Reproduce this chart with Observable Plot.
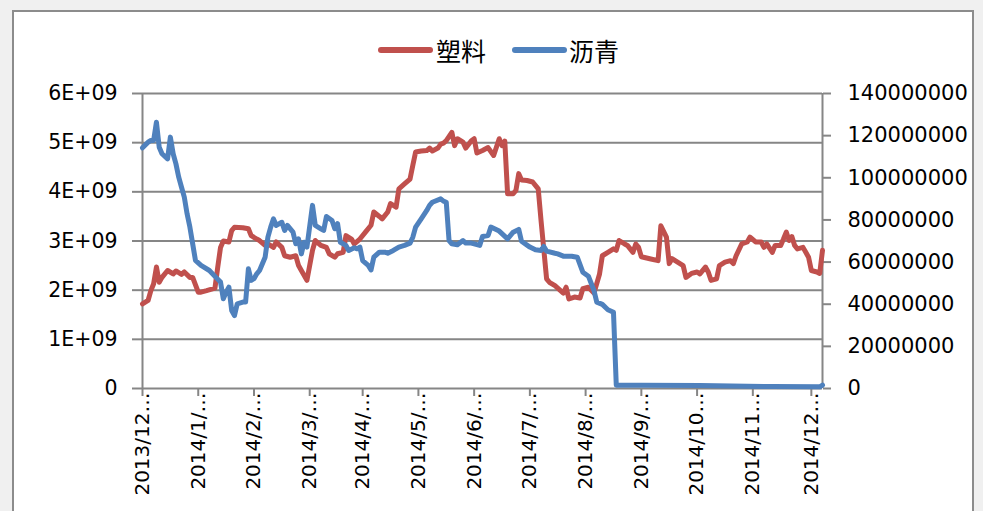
<!DOCTYPE html>
<html>
<head>
<meta charset="utf-8">
<script src="https://cdn.jsdelivr.net/npm/d3@7"></script>
<script src="https://cdn.jsdelivr.net/npm/@observablehq/plot@0.6"></script>
<style>
  html, body { margin: 0; padding: 0; background: #f0f0f0; width: 983px; height: 511px; overflow: hidden; }
  #frame { position: absolute; left: 12px; top: 10px; width: 958px; height: 520px; background: #fff; border: 2px solid #8c8c8c; }
  #chart { position: absolute; left: 0; top: 0; }
  .lg-line { position: absolute; height: 6px; border-radius: 3px; top: 47px; }
  .lg-text { position: absolute; top: 33px; font-family: "Noto Sans CJK SC", sans-serif; font-size: 25px; line-height: 34px; color: #000; }
</style>
</head>
<body>
<div id="frame"></div>
<div id="chart"></div>
<div class="lg-line" style="left:378px;width:55px;background:#C0504D"></div>
<div class="lg-text" style="left:436px">塑料</div>
<div class="lg-line" style="left:512px;width:55px;background:#4F81BD"></div>
<div class="lg-text" style="left:569px">沥青</div>
<script>
// Series names
const seriesNames = ["塑料", "沥青"];
// 塑料 (left axis, units of 1E+09) at trading-day index
const redIdx = [0,2,3,4,5,6,7,9,11,12,14,15,17,18,20,21,23,26,27,28,29,31,32,33,36,38,39,41,42,44,45,47,48,50,51,53,55,56,57,59,61,62,64,66,67,69,70,72,73,75,76,78,80,82,83,85,86,88,89,91,92,94,96,97,98,100,102,103,104,106,107,108,109,111,112,113,115,116,118,119,120,122,124,126,128,129,130,131,133,134,135,136,138,140,142,143,145,146,148,150,151,152,153,155,157,158,160,162,164,165,167,169,170,171,173,174,176,177,178,179,182,185,186,188,189,190,192,194,195,197,199,200,202,203,204,206,207,209,211,212,213,215,217,218,220,222,223,224,226,227,229,230,231,232,233,234,235,237,238,239,240,242,243,244];
const redVal = [1.72,1.79,1.99,2.13,2.47,2.16,2.26,2.40,2.33,2.39,2.32,2.37,2.26,2.26,1.96,1.96,1.99,2.04,2.47,2.87,3.00,2.98,3.21,3.28,3.27,3.25,3.11,3.04,3.01,2.91,2.94,2.87,2.98,2.87,2.70,2.67,2.70,2.50,2.40,2.20,2.81,3.01,2.91,2.87,2.74,2.67,2.74,2.77,3.11,3.04,2.94,3.04,3.18,3.32,3.59,3.50,3.45,3.59,3.76,3.69,4.06,4.16,4.26,4.54,4.81,4.83,4.84,4.89,4.83,4.89,4.97,4.99,5.04,5.21,4.94,5.08,5.01,4.89,5.04,5.08,4.79,4.84,4.90,4.74,5.08,4.94,5.03,3.96,3.96,4.03,4.37,4.24,4.23,4.20,4.06,3.42,2.23,2.16,2.09,1.99,1.94,2.06,1.82,1.86,1.84,2.03,2.06,1.94,2.33,2.70,2.77,2.84,2.81,3.01,2.94,2.91,2.77,2.94,2.87,2.68,2.64,2.60,3.31,3.08,2.54,2.64,2.57,2.50,2.26,2.34,2.37,2.33,2.47,2.37,2.20,2.23,2.50,2.57,2.60,2.54,2.70,2.94,2.98,3.08,2.98,2.98,2.87,2.94,2.77,2.91,2.91,3.04,3.18,3.01,3.09,2.91,2.84,2.87,2.77,2.67,2.40,2.37,2.34,2.81];
// 沥青 (right axis, units of 1,000,000) at trading-day index
const blueIdx = [0,2,3,4,5,6,7,9,10,11,12,13,14,15,16,17,18,19,21,24,26,28,29,30,31,32,33,34,36,37,38,39,40,41,42,44,45,46,47,48,50,51,52,54,55,56,57,58,59,61,62,64,65,66,68,69,70,71,73,74,76,77,78,79,81,82,83,85,87,88,90,92,94,96,97,98,100,102,103,104,107,108,109,110,111,113,115,116,118,121,122,124,125,128,131,133,135,136,139,141,143,144,145,148,149,151,154,156,158,160,162,163,165,167,169,170,179,200,226,243,244];
const blueVal = [114.2,116.9,117.7,117.7,126.4,114.5,111.4,109.0,119.3,111.4,106.6,100.3,95.5,90.8,82.9,76.6,68.7,60.8,58.4,56.0,53.2,50.5,42.6,45.7,48.1,37.0,34.6,40.2,41.0,41.0,56.8,51.3,52.1,54.4,56.0,62.3,71.8,76.6,80.5,77.4,78.9,75.0,77.4,74.2,68.7,71.0,63.9,69.4,67.1,86.9,77.4,75.8,75.0,81.6,79.7,75.8,78.2,69.4,67.9,65.5,66.8,66.3,67.1,60.7,58.4,56.3,62.3,64.7,64.7,64.2,65.5,67.1,67.9,69.0,71.8,76.6,80.5,84.5,86.9,88.4,90.0,88.9,88.4,70.2,68.7,68.2,70.2,69.0,69.0,67.9,72.1,72.6,76.6,74.7,71.0,74.2,75.5,69.9,67.1,65.8,65.5,67.4,65.2,64.2,63.9,62.8,62.8,62.3,55.2,53.3,46.5,41.0,39.9,37.4,36.2,1.6,1.6,1.4,0.9,0.8,1.6];
// X axis category ticks
const xTickIdx = [0,20,40,60,79,99,119,139,159,179,199,219,240];
const xTickLabels = ["2013/12…","2014/1/…","2014/2/…","2014/3/…","2014/4/…","2014/5/…","2014/6/…","2014/7/…","2014/8/…","2014/9/…","2014/10…","2014/11…","2014/12…"];
// Left axis ticks
const leftTicks = [0,1e9,2e9,3e9,4e9,5e9,6e9];
const leftLabels = ["0","1E+09","2E+09","3E+09","4E+09","5E+09","6E+09"];
// Right axis ticks
const rightTicks = [0,20e6,40e6,60e6,80e6,100e6,120e6,140e6];
const rightLabels = ["0","20000000","40000000","60000000","80000000","100000000","120000000","140000000"];

const lastIdx = 244;
const leftMax = 6e9, rightMax = 140e6;
const k = leftMax / rightMax;
const red = redIdx.map((x, i) => ({x, y: redVal[i] * 1e9, s: seriesNames[0]}));
const blue = blueIdx.map((x, i) => ({x, y: blueVal[i] * 1e6 * k, s: seriesNames[1]}));
const rightScaled = rightTicks.map(v => v * k);
const gray = "#868686";

const chart = Plot.plot({
  width: 983,
  height: 511,
  marginLeft: 142,
  marginRight: 161,
  marginTop: 93,
  marginBottom: 123,
  style: {fontFamily: "DejaVu Sans", fontSize: "20px", color: "#000", background: "transparent", overflow: "visible"},
  x: {domain: [0, lastIdx]},
  y: {domain: [0, leftMax]},
  marks: [
    Plot.gridY(leftTicks.slice(1), {stroke: gray, strokeOpacity: 1, strokeWidth: 2}),
    Plot.ruleX([0, lastIdx], {stroke: gray, strokeWidth: 2}),
    Plot.ruleY([0], {stroke: gray, strokeWidth: 2}),
    Plot.axisY(leftTicks, {anchor: "left", tickSize: 10, tickPadding: 15, stroke: gray, strokeWidth: 2, fill: "#000", fontSize: 20.5, label: null,
      tickFormat: d => leftLabels[leftTicks.indexOf(d)]}),
    Plot.axisY(rightScaled, {anchor: "right", tickSize: 8, tickPadding: 17, stroke: gray, strokeWidth: 2, fill: "#000", fontSize: 21, label: null,
      tickFormat: d => rightLabels[rightScaled.indexOf(d)]}),
    Plot.axisX(xTickIdx, {anchor: "bottom", tickSize: 8, tickPadding: -4, tickRotate: -90, stroke: gray, strokeWidth: 2, fill: "#000", fontSize: 20, label: null,
      tickFormat: d => xTickLabels[xTickIdx.indexOf(d)]}),
    Plot.line(red, {x: "x", y: "y", stroke: "#C0504D", strokeWidth: 5, strokeLinejoin: "round", strokeLinecap: "round"}),
    Plot.line(blue, {x: "x", y: "y", stroke: "#4F81BD", strokeWidth: 5, strokeLinejoin: "round", strokeLinecap: "round"})
  ]
});
document.getElementById("chart").appendChild(chart);
</script>
</body>
</html>
